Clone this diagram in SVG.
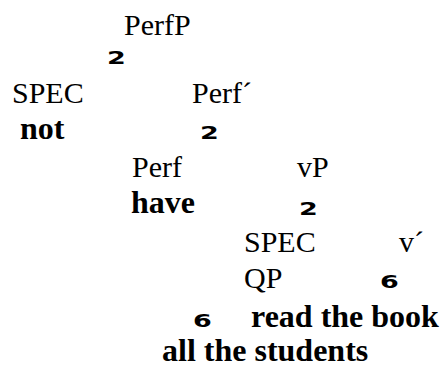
<svg xmlns="http://www.w3.org/2000/svg" width="444" height="366" viewBox="0 0 444 366">
<style>
.t{font-family:"Liberation Serif","Times New Roman",serif;font-size:30px;fill:#000}
.b{font-family:"Liberation Serif","Times New Roman",serif;font-size:32px;font-weight:bold;fill:#000}
.s{font-family:"DejaVu Sans",sans-serif;font-size:18px;font-weight:bold;fill:#000}
</style>
<rect width="444" height="366" fill="#fff"/>
<g id="connectors">
<text class="s" transform="translate(107,64) scale(1.5,1)">2</text>
<text class="s" transform="translate(200,139) scale(1.5,1)">2</text>
<text class="s" transform="translate(299,215) scale(1.5,1)">2</text>
<text class="s" transform="translate(380,288) scale(1.5,1)">6</text>
<text class="s" transform="translate(193,327) scale(1.5,1)">6</text>
</g>
<g id="PerfP"><text class="t" x="124" y="35">PerfP</text></g>
<g id="SPEC1"><text class="t" x="12" y="103">SPEC</text></g>
<g id="Perf-bar"><text class="t" x="192" y="103">Perf´</text></g>
<g id="not"><text class="b" x="20" y="139">not</text></g>
<g id="Perf"><text class="t" x="132" y="177">Perf</text></g>
<g id="vP"><text class="t" x="297" y="177">vP</text></g>
<g id="have"><text class="b" x="131" y="213">have</text></g>
<g id="SPEC2"><text class="t" x="244" y="252">SPEC</text></g>
<g id="v-bar"><text class="t" x="399" y="252">v´</text></g>
<g id="QP"><text class="t" x="244" y="288">QP</text></g>
<g id="read-the-book"><text class="b" x="251" y="327">read the book</text></g>
<g id="all-the-students"><text class="b" x="162" y="361">all the students</text></g>
</svg>
